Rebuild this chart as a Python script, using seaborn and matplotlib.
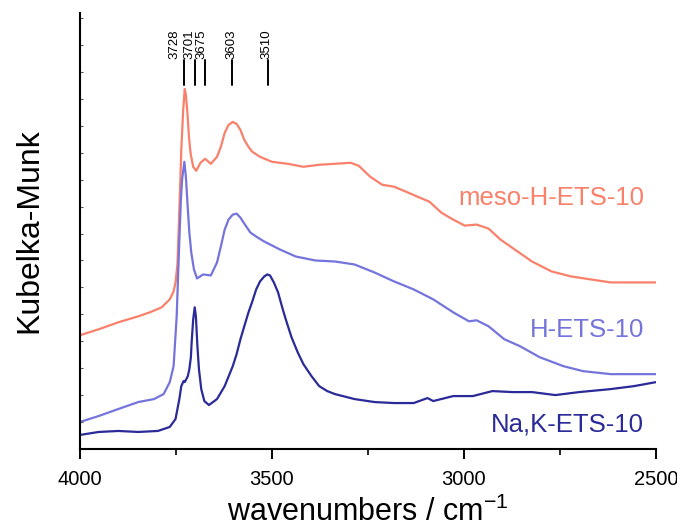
import pandas as pd
import matplotlib.pyplot as plt
import seaborn as sns
from matplotlib.ticker import MultipleLocator, NullFormatter

# ------------------------------------------------------------
# data (wavenumber / cm-1, Kubelka-Munk a.u.)
# ------------------------------------------------------------
meso_wn = [4000, 3951, 3900, 3848, 3818, 3787, 3766, 3756, 3751, 3746, 3743, 3739,
           3736, 3731, 3727, 3724, 3720, 3716, 3712, 3705, 3697, 3686, 3674, 3659,
           3643, 3633, 3623, 3613, 3602, 3592, 3582, 3572, 3561, 3551, 3531, 3500,
           3459, 3418, 3377, 3336, 3295, 3274, 3244, 3213, 3182, 3151, 3121, 3090,
           3059, 3028, 2998, 2967, 2936, 2905, 2864, 2823, 2772, 2721, 2670, 2618,
           2567, 2500]
meso_km = [114, 120, 127, 133, 137, 142, 150, 158, 167, 185, 217, 263,
           300, 340, 361, 355, 337, 313, 297, 283, 279, 287, 291, 286,
           293, 303, 317, 325, 328, 326, 320, 310, 303, 298, 293, 288,
           286, 283, 285, 286, 287, 284, 273, 265, 263, 258, 253, 248,
           237, 230, 224, 225, 221, 210, 199, 188, 178, 173, 170, 167,
           167, 167]

h_wn = [4000, 3951, 3900, 3848, 3807, 3782, 3766, 3756, 3748, 3744, 3741, 3737,
        3734, 3728, 3724, 3720, 3715, 3710, 3703, 3695, 3679, 3659, 3643, 3633,
        3623, 3613, 3602, 3592, 3582, 3572, 3556, 3541, 3520, 3479, 3438, 3387,
        3336, 3285, 3233, 3182, 3131, 3080, 3028, 2987, 2967, 2936, 2895, 2854,
        2803, 2741, 2690, 2618, 2500]
h_km = [27, 33, 40, 47, 50, 55, 67, 83, 133, 177, 210, 250,
        270, 288, 273, 247, 217, 197, 180, 171, 175, 174, 187, 203,
        220, 230, 235, 236, 232, 226, 217, 213, 208, 200, 193, 189,
        188, 185, 177, 168, 160, 150, 137, 128, 129, 123, 110, 103,
        92, 83, 78, 75, 75]

nak_wn = [4000, 3951, 3900, 3848, 3797, 3766, 3751, 3741, 3736, 3730, 3727, 3723,
          3719, 3715, 3711, 3709, 3705, 3701, 3698, 3694, 3690, 3684, 3676, 3664,
          3643, 3623, 3602, 3592, 3582, 3572, 3561, 3551, 3541, 3531, 3520, 3512,
          3505, 3495, 3484, 3474, 3464, 3449, 3433, 3418, 3397, 3377, 3356, 3336,
          3285, 3233, 3182, 3131, 3095, 3080, 3028, 2977, 2926, 2874, 2823, 2762,
          2700, 2618, 2557, 2500]
nak_km = [14, 17, 18, 17, 18, 22, 30, 50, 63, 68, 67, 70,
          73, 80, 92, 107, 130, 142, 133, 103, 80, 60, 48, 44,
          50, 63, 83, 95, 110, 123, 137, 148, 160, 168, 173, 175,
          174, 167, 157, 143, 130, 112, 97, 85, 73, 63, 58, 55,
          50, 47, 46, 46, 51, 48, 53, 53, 58, 57, 57, 54,
          57, 60, 63, 67]

series_names = ["meso-H-ETS-10", "H-ETS-10", "Na,K-ETS-10"]
series_colors = ["#f9806a", "#7474dc", "#2a2a98"]
label_heights = [252, 119, 24]

peak_positions = [3728, 3701, 3675, 3603, 3510]
peak_labels = ["3728", "3701", "3675", "3603", "3510"]
peak_text_x = [3754, 3716, 3684, 3606, 3514]

frames = []
for name, wn, km in zip(series_names, [meso_wn, h_wn, nak_wn], [meso_km, h_km, nak_km]):
    frames.append(pd.DataFrame({"wn": wn, "km": km, "sample": name}))
df = pd.concat(frames, ignore_index=True)

sns.set_style("ticks")
plt.rcParams["font.family"] = ["Liberation Sans", "DejaVu Sans"]
plt.rcParams["mathtext.fontset"] = "custom"
plt.rcParams["mathtext.rm"] = "Liberation Sans"
plt.rcParams["text.color"] = "black"
plt.rcParams["axes.labelcolor"] = "black"
plt.rcParams["xtick.color"] = "black"

fig = plt.figure(figsize=(6.77, 5.30), dpi=100)
ax = fig.add_axes([0.118, 0.153, 0.851, 0.822])

sns.lineplot(data=df, x="wn", y="km", hue="sample", hue_order=series_names,
             palette=series_colors, linewidth=1.6, legend=False, ax=ax,
             sort=False, estimator=None)

for name, color, h in zip(series_names, series_colors, label_heights):
    ax.text(2531, h, name, color=color, fontsize=18.5, ha="right", va="center")

# peak markers
for pos, lab, tx in zip(peak_positions, peak_labels, peak_text_x):
    ax.plot([pos, pos], [365, 390], color="black", linewidth=1.4)
    ax.text(tx, 391, lab, rotation=90, fontsize=9.5, ha="center", va="bottom")

ax.set_xlim(4000, 2500)
ax.set_ylim(0, 437)
ax.set_xticks([4000, 3500, 3000, 2500])
ax.xaxis.set_minor_locator(MultipleLocator(250))
ax.yaxis.set_major_locator(MultipleLocator(27))
ax.yaxis.set_major_formatter(NullFormatter())
ax.tick_params(axis="x", which="major", direction="out", length=7, width=1.4,
               labelsize=14.5, pad=8)
ax.tick_params(axis="x", which="minor", direction="out", length=4, width=1.2)
ax.tick_params(axis="y", which="major", direction="in", length=2, width=0.8, color="#555555")

for side in ["top", "right"]:
    ax.spines[side].set_visible(False)
for side in ["left", "bottom"]:
    ax.spines[side].set_linewidth(1.5)
    ax.spines[side].set_color("black")

ax.set_xlabel("wavenumbers / cm$^{\\mathregular{-1}}$", fontsize=22, labelpad=6)
ax.set_ylabel("Kubelka-Munk", fontsize=23, labelpad=22)

fig.savefig("out.png", dpi=100)
plt.close(fig)
